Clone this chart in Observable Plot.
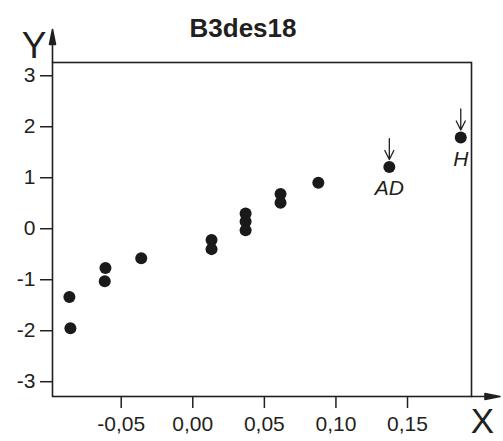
<!DOCTYPE html>
<html><head><meta charset="utf-8">
<script src="https://cdn.jsdelivr.net/npm/d3@7"></script>
<script src="https://cdn.jsdelivr.net/npm/@observablehq/plot@0.6"></script>
<style>body{margin:0;background:#fff}</style>
</head><body><div id="chart"></div>
<script>
const title = "B3des18";
const xValues = [-0.0862, -0.0855, -0.0610, -0.0615, -0.0360, 0.0131, 0.0131, 0.0369, 0.0369, 0.0369, 0.0613, 0.0613, 0.0877, 0.1373, 0.1872];
const yValues = [-1.34, -1.95, -0.77, -1.03, -0.58, -0.22, -0.40, 0.30, 0.14, -0.03, 0.68, 0.51, 0.90, 1.21, 1.79];
const pointLabels = ["", "", "", "", "", "", "", "", "", "", "", "", "", "AD", "H"];
const xTicks = [-0.05, 0, 0.05, 0.10, 0.15];
const yTicks = [-3, -2, -1, 0, 1, 2, 3];
const xDomain = [-0.098, 0.1947];
const yDomain = [-3.29, 3.26];
const axisNames = {x: "X", y: "Y"};

const ink = "#231f20";
const points = xValues.map((x, i) => ({x, y: yValues[i], label: pointLabels[i]}));
const marked = points.filter(d => d.label);
const fmtX = d => d3.format(".2f")(d).replace(".", ",").replace("\u2212", "-");
const fmtY = d => String(d);

const axisHead = {
  draw(ctx, l) {
    ctx.moveTo(0, 0);
    ctx.lineTo(0, -l + 12);
    ctx.moveTo(0, -l);
    ctx.lineTo(-3, -l + 15);
    ctx.lineTo(3, -l + 15);
    ctx.closePath();
  }
};
const pointer = {
  draw(ctx, l) {
    ctx.moveTo(0, 0);
    ctx.lineTo(0, -l);
    ctx.moveTo(-4.5, -l + 9);
    ctx.lineTo(0, -l);
    ctx.lineTo(4.5, -l + 9);
  }
};

const chart = Plot.plot({
  width: 503,
  height: 441,
  marginTop: 62,
  marginLeft: 52,
  marginRight: 32,
  marginBottom: 45,
  style: {fontFamily: "'Liberation Sans', Arial, sans-serif", color: ink, background: "#fff"},
  x: {domain: xDomain},
  y: {domain: yDomain},
  marks: [
    Plot.frame({stroke: ink, strokeWidth: 1.6}),
    Plot.vector([{x: xDomain[0], y: yDomain[1]}], {x: "x", y: "y", length: 33, rotate: 0, anchor: "start", shape: axisHead, stroke: ink, fill: ink, strokeWidth: 1.6}),
    Plot.vector([{x: xDomain[1], y: yDomain[0]}], {x: "x", y: "y", length: 28.5, rotate: 90, anchor: "start", shape: axisHead, stroke: ink, fill: ink, strokeWidth: 1.6}),
    Plot.axisY(yTicks, {tickSize: 12, tickPadding: 5, fontSize: 21, tickFormat: fmtY, label: null, stroke: ink, strokeWidth: 1.5, fill: ink}),
    Plot.axisX(xTicks, {tickSize: 12, tickPadding: 8, fontSize: 21, tickFormat: fmtX, label: null, stroke: ink, strokeWidth: 1.5, fill: ink}),
    Plot.dot(points, {x: "x", y: "y", r: 6, fill: "#1a1a1a", stroke: "none"}),
    Plot.vector(marked, {x: "x", y: "y", length: 21, rotate: 180, anchor: "end", dy: -7.5, shape: pointer, stroke: ink, strokeWidth: 1.3}),
    Plot.text(marked, {x: "x", y: "y", text: "label", dy: 21.6, fontSize: 21, fontStyle: "italic", fill: ink}),
    Plot.text([title], {frameAnchor: "top", text: d => d, textAnchor: "middle", lineAnchor: "middle", dx: -19, dy: -33.5, fontSize: 26, fontWeight: "bold", fill: ink}),
    Plot.text([axisNames.y], {frameAnchor: "top-left", text: d => d, textAnchor: "middle", lineAnchor: "middle", dx: -18.5, dy: -16.5, fontSize: 37, fill: ink}),
    Plot.text([axisNames.x], {frameAnchor: "bottom-right", text: d => d, textAnchor: "middle", lineAnchor: "middle", dx: 10.8, dy: 24.8, fontSize: 35, fill: ink})
  ]
});
document.getElementById("chart").append(chart);
</script>
</body></html>
